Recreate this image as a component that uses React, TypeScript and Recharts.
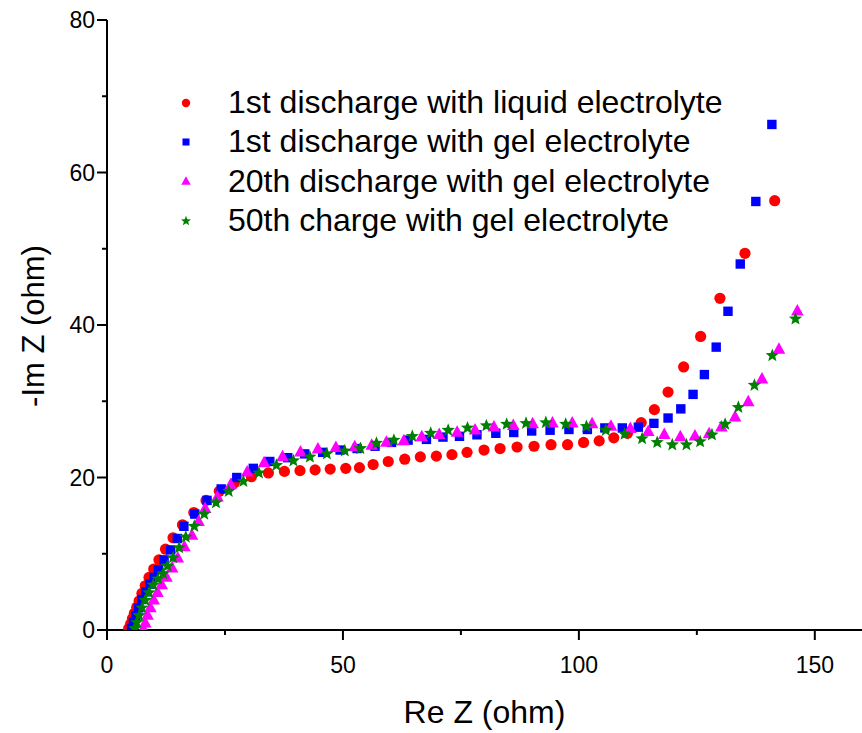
import React from 'react';
import { ScatterChart, Scatter, XAxis, YAxis, Legend } from 'recharts';

// ---- data (Re Z, -Im Z in ohm) ----
const liquidX = [4.6,5.0,5.4,5.8,6.3,6.8,7.4,8.1,8.9,9.9,11.0,12.4,14.0,16.0,18.4,21.0,23.8,27.0,30.6,34.2,37.6,40.9,44.1,47.3,50.6,53.5,56.4,59.6,63.1,66.4,69.8,73.1,76.3,79.9,83.3,86.9,90.5,94.1,97.6,101.0,104.3,107.4,110.3,113.2,116.0,118.9,122.2,125.8,129.9,135.2,141.5];
const liquidY = [0.2,0.8,1.5,2.2,3.0,3.8,4.8,5.8,6.9,8.0,9.2,10.6,12.1,13.8,15.4,17.0,18.2,19.3,20.1,20.6,20.8,20.9,21.0,21.1,21.2,21.3,21.7,22.1,22.4,22.7,22.8,23.0,23.3,23.6,23.8,24.0,24.1,24.3,24.3,24.6,24.8,25.2,25.8,27.2,28.9,31.2,34.5,38.5,43.5,49.4,56.3];

const gel1X = [5.2,5.6,6.1,6.7,7.4,8.2,9.1,10.0,10.9,12.1,13.5,14.9,16.3,18.6,21.2,24.2,27.5,31.0,34.5,38.3,41.9,45.7,49.4,53.0,56.8,60.3,63.8,67.7,71.2,74.7,78.4,82.4,86.2,90.0,93.9,97.9,101.8,105.5,109.2,112.6,115.9,118.9,121.6,124.2,126.6,129.1,131.6,134.2,137.5,140.9];
const gel1Y = [0.2,1.0,1.9,2.9,4.0,5.0,6.0,6.9,7.9,9.2,10.5,12.0,13.6,15.2,17.0,18.5,20.0,21.2,22.1,22.6,23.1,23.3,23.6,23.8,24.1,24.6,24.9,25.0,25.3,25.4,25.6,25.8,25.9,26.1,26.2,26.3,26.3,26.5,26.5,26.6,27.1,27.8,29.0,30.9,33.5,37.1,41.8,48.0,56.2,66.3];

const gel20X = [7.7,8.1,8.6,9.2,9.9,10.7,11.6,12.6,13.8,15.0,16.4,18.0,19.4,20.8,23.4,26.2,29.7,33.3,37.2,41.0,44.7,48.5,52.5,56.1,59.2,62.9,66.7,70.4,74.2,78.0,82.0,86.1,90.2,94.4,98.6,102.8,106.8,110.9,114.7,118.1,121.5,124.6,127.6,130.2,133.1,135.9,138.8,142.4,146.3];
const gel20Y = [0.2,1.0,2.0,3.0,4.0,5.0,6.0,7.0,8.2,9.5,11.0,12.5,14.3,16.0,17.5,19.1,20.8,22.0,22.8,23.4,23.8,24.0,24.1,24.3,24.7,24.9,25.4,25.7,26.0,26.3,26.7,26.9,27.1,27.2,27.2,27.1,26.8,26.5,26.1,25.7,25.4,25.5,25.8,26.7,28.0,30.0,33.0,36.9,41.9];

const gel50X = [5.9,6.3,6.8,7.4,8.1,8.9,9.8,10.8,11.9,12.8,14.0,15.3,16.7,18.5,20.6,23.1,25.8,28.9,32.2,35.9,39.5,43.0,46.6,50.4,53.7,57.1,60.8,64.7,68.6,72.3,76.4,80.4,84.7,88.8,93.0,97.2,101.6,105.7,109.7,113.4,116.6,119.8,122.8,125.7,128.2,131.0,133.8,137.2,141.0,145.9];
const gel50Y = [0.2,1.0,1.9,2.9,3.9,4.9,5.9,6.7,7.4,8.4,9.5,10.8,12.2,13.6,15.2,16.7,18.2,19.5,20.6,21.6,22.2,22.7,23.1,23.5,23.8,24.5,24.9,25.4,25.8,26.2,26.5,26.8,27.0,27.1,27.2,27.0,26.7,26.2,25.7,25.1,24.6,24.3,24.3,24.7,25.6,27.0,29.2,32.1,36.0,40.8];

const seriesNames = [
  '1st discharge with liquid electrolyte',
  '1st discharge with gel electrolyte',
  '20th discharge with gel electrolyte',
  '50th charge with gel electrolyte',
];

const xTicks = [0, 25, 50, 75, 100, 125, 150];
const xMajor = [0, 50, 100, 150];
const yTicks = [0, 10, 20, 30, 40, 50, 60, 70, 80];
const yMajor = [0, 20, 40, 60, 80];

const FONT = '"Liberation Sans", Arial, sans-serif';

const zip = (xs: number[], ys: number[]) => xs.map((x, i) => ({ x, y: ys[i] }));

type Kind = 'circle' | 'square' | 'triangle' | 'star';

function starPoints(cx: number, cy: number, R: number, r: number) {
  const pts: string[] = [];
  for (let i = 0; i < 10; i++) {
    const rad = i % 2 === 0 ? R : r;
    const a = -Math.PI / 2 + (i * Math.PI) / 5;
    pts.push(`${cx + rad * Math.cos(a)},${cy + rad * Math.sin(a)}`);
  }
  return pts.join(' ');
}

function Marker({ cx, cy, kind, color, s }: { cx: number; cy: number; kind: Kind; color: string; s: number }) {
  if (cx == null || cy == null || isNaN(cx) || isNaN(cy)) return <g />;
  if (kind === 'circle') return <circle cx={cx} cy={cy} r={5.6 * s} fill={color} />;
  if (kind === 'square') return <rect x={cx - 4.7 * s} y={cy - 4.7 * s} width={9.4 * s} height={9.4 * s} fill={color} />;
  if (kind === 'triangle')
    return (
      <polygon
        points={`${cx},${cy - 6.5 * s} ${cx - 6.3 * s},${cy + 5 * s} ${cx + 6.3 * s},${cy + 5 * s}`}
        fill={color}
      />
    );
  return <polygon points={starPoints(cx, cy, 7 * s, 3 * s)} fill={color} />;
}

const series: { name: string; data: { x: number; y: number }[]; color: string; kind: Kind }[] = [
  { name: seriesNames[0], data: zip(liquidX, liquidY), color: '#FF0000', kind: 'circle' },
  { name: seriesNames[1], data: zip(gel1X, gel1Y), color: '#0000FF', kind: 'square' },
  { name: seriesNames[2], data: zip(gel20X, gel20Y), color: '#FF00FF', kind: 'triangle' },
  { name: seriesNames[3], data: zip(gel50X, gel50Y), color: '#008000', kind: 'star' },
];

const XTick = (props: any) => {
  const { x, y, payload } = props;
  const major = xMajor.includes(payload.value);
  return (
    <g>
      <line x1={x} y1={y} x2={x} y2={y + (major ? 10 : 5)} stroke="#000" strokeWidth={2} />
      {major && (
        <text x={x} y={y + 43} textAnchor="middle" fontSize={23} fontFamily={FONT} fill="#000">
          {payload.value}
        </text>
      )}
    </g>
  );
};

const YTick = (props: any) => {
  const { x, y, payload } = props;
  const major = yMajor.includes(payload.value);
  return (
    <g>
      <line x1={x} y1={y} x2={x - (major ? 10 : 5)} y2={y} stroke="#000" strokeWidth={2} />
      {major && (
        <text x={x - 12} y={y + 8} textAnchor="end" fontSize={23} fontFamily={FONT} fill="#000">
          {payload.value}
        </text>
      )}
    </g>
  );
};

const RightTick = (props: any) => {
  const { x, y, payload } = props;
  const major = yMajor.includes(payload.value);
  return <line x1={x} y1={y} x2={x - (major ? 10 : 5)} y2={y} stroke="#000" strokeWidth={2} />;
};

const LegendContent = () => (
  <div style={{ fontFamily: FONT, fontSize: 32, color: '#000' }}>
    {series.map((s) => (
      <div key={s.name} style={{ display: 'flex', alignItems: 'center', height: 39.3 }}>
        <svg width={32} height={20} style={{ display: 'block' }}>
          <Marker cx={16} cy={10} kind={s.kind} color={s.color} s={0.75} />
        </svg>
        <span style={{ marginLeft: 26, whiteSpace: 'nowrap', lineHeight: '39px' }}>{s.name}</span>
      </div>
    ))}
  </div>
);

export default function App() {
  return (
    <div style={{ position: 'absolute', left: 0, top: 0, width: 862, height: 733, background: '#fff' }}>
      <ScatterChart width={862} height={733} margin={{ top: 20, right: 0, bottom: 0, left: 0 }}>
        <XAxis
          type="number"
          dataKey="x"
          domain={[0, 160]}
          ticks={xTicks}
          interval={0}
          tick={<XTick />}
          tickLine={false}
          tickSize={0}
          tickMargin={0}
          height={103}
          axisLine={{ stroke: '#000', strokeWidth: 2 }}
          allowDataOverflow
          label={{ value: 'Re Z (ohm)', position: 'insideBottom', offset: 10, fontSize: 32, fontFamily: FONT, fill: '#000' }}
        />
        <XAxis
          xAxisId="top"
          orientation="top"
          type="number"
          domain={[0, 160]}
          height={0}
          tick={false}
          tickLine={false}
          axisLine={{ stroke: '#000', strokeWidth: 2 }}
        />
        <YAxis
          type="number"
          dataKey="y"
          domain={[0, 80]}
          ticks={yTicks}
          interval={0}
          tick={<YTick />}
          tickLine={false}
          tickSize={0}
          tickMargin={0}
          width={107}
          axisLine={{ stroke: '#000', strokeWidth: 2 }}
          allowDataOverflow
          label={{
            content: () => (
              <text
                x={33}
                y={326}
                transform="rotate(-90, 33, 326)"
                textAnchor="middle"
                dominantBaseline="central"
                fontSize={31}
                fontFamily={FONT}
                fill="#000"
              >
                -Im Z (ohm)
              </text>
            ),
          }}
        />
        <YAxis
          yAxisId="right"
          orientation="right"
          type="number"
          domain={[0, 80]}
          ticks={yTicks}
          interval={0}
          width={0}
          tick={<RightTick />}
          tickLine={false}
          tickSize={0}
          tickMargin={0}
          axisLine={false}
        />
        <Legend
          layout="horizontal"
          verticalAlign="middle"
          align="center"
          content={<LegendContent />}
          wrapperStyle={{ position: 'absolute', left: 170, top: 83, width: 640 }}
        />
        {series.map((s) => (
          <Scatter
            key={s.name}
            name={s.name}
            data={s.data}
            fill={s.color}
            isAnimationActive={false}
            shape={(p: any) => <Marker cx={p.cx} cy={p.cy} kind={s.kind} color={s.color} s={1} />}
          />
        ))}
      </ScatterChart>
    </div>
  );
}
